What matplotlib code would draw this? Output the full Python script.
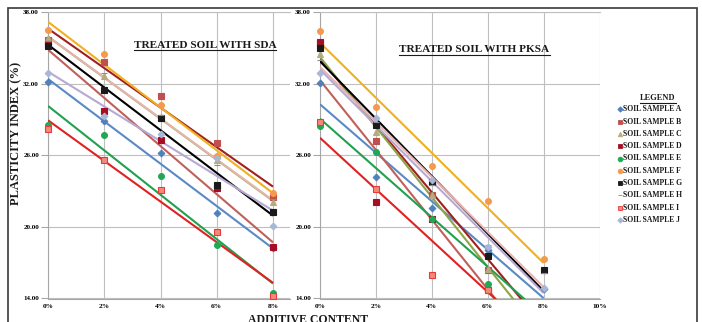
import numpy as np
import matplotlib
matplotlib.use('Agg')
import matplotlib.pyplot as plt
from matplotlib.lines import Line2D
from matplotlib.patches import Rectangle

# ---------------- data ----------------
additive_pct = [0, 2, 4, 6, 8]
sample_names = ['SOIL SAMPLE A', 'SOIL SAMPLE B', 'SOIL SAMPLE C', 'SOIL SAMPLE D',
                'SOIL SAMPLE E', 'SOIL SAMPLE F', 'SOIL SAMPLE G', 'SOIL SAMPLE H',
                'SOIL SAMPLE I', 'SOIL SAMPLE J']

# Treated soil with SDA (plasticity index, %)
sda_a = [32.1, 28.85, 26.15, 21.15, 18.2]
sda_b = [35.65, 33.8, 31.0, 27.0, 22.5]
sda_c = [35.8, 32.6, 29.2, 25.6, 22.1]
sda_d = [35.3, 29.7, 27.25, 23.25, 18.35]
sda_e = [28.5, 27.7, 24.25, 18.5, 14.5]
sda_f = [36.5, 34.5, 30.25, 25.9, 22.85]
sda_g = [35.15, 31.5, 29.1, 23.5, 21.25]
sda_h = [35.6, 32.9, 29.4, 25.2, 22.3]
sda_i = [28.2, 25.6, 23.05, 19.55, 14.2]
sda_j = [32.9, 29.3, 27.8, 25.8, 20.1]

# Treated soil with PKSA (plasticity index, %)
pksa_a = [32.05, 24.2, 21.6, 18.1, 14.8]
pksa_b = [35.4, 27.2, 22.65, 16.4, 12.85]
pksa_c = [34.5, 27.95, 22.65, 16.5, 10.9]
pksa_d = [35.5, 22.1, 20.7, 14.75, 10.0]
pksa_e = [28.45, 26.3, 20.7, 15.2, 13.35]
pksa_f = [36.45, 30.0, 25.1, 22.15, 17.3]
pksa_g = [35.0, 28.5, 23.75, 17.6, 16.4]
pksa_h = [34.0, 28.8, 23.5, 18.5, 16.1]
pksa_i = [28.8, 23.2, 16.0, 14.75, 11.5]
pksa_j = [32.9, 29.1, 23.9, 18.3, 14.9]

y_ticks = [14, 20, 26, 32, 38]

# ---------------- styles ----------------
markers = ['D', 's', '^', 's', 'o', 'o', 's', '_', 's', 'D']
msizes = [3.4, 3.8, 4.0, 3.8, 4.2, 4.2, 3.8, 4.0, 3.8, 3.4]
mface = ['#4F81BD', '#C0504D', '#B3AD7E', '#A50F25', '#1FA855',
         '#F59A4C', '#1A1A1A', '#8C8C8C', '#F28A7A', '#A8B6D8']
medge = ['#4F81BD', '#C0504D', '#B3AD7E', '#A50F25', '#1FA855',
         '#F59A4C', '#1A1A1A', '#8C8C8C', '#E83A3A', '#A8B6D8']
trend_colors = ['#5A8AC6', '#A31F1F', '#8EA44A', '#C0605A', '#22A050',
                '#F0B020', '#000000', '#E8B4B0', '#E02222', '#B7A9D3']

W, H = 702, 322
serif = ['Liberation Serif', 'DejaVu Serif']
plt.rcParams['font.family'] = serif

fig = plt.figure(figsize=(W / 100, H / 100), dpi=100)
fig.patch.set_facecolor('white')


def fx(px):
    return px / W


def fy(py):
    return 1 - py / H


def style_axes(ax, xmax, xticks, xlabels):
    ax.set_ylim(14, 38)
    ax.set_xlim(0, xmax)
    ax.set_yticks(y_ticks)
    ax.set_yticklabels(['%.2f' % v for v in y_ticks])
    ax.set_xticks(xticks)
    ax.set_xticklabels(xlabels)
    ax.grid(True, color='#BFBFBF', linewidth=0.8)
    ax.set_axisbelow(True)
    ax.spines['right'].set_visible(False)
    ax.spines['top'].set_color('#BFBFBF')
    ax.spines['top'].set_linewidth(0.8)
    for s in ['left', 'bottom']:
        ax.spines[s].set_color('#A6A6A6')
        ax.spines[s].set_linewidth(0.8)
    ax.tick_params(axis='y', length=5, width=0.8, color='#A6A6A6', pad=1.5,
                   labelsize=5.0)
    ax.tick_params(axis='x', length=0, pad=4, labelsize=5.3)
    for lab in ax.get_xticklabels() + ax.get_yticklabels():
        lab.set_fontweight('bold')
    ax.set_facecolor('white')


def draw_series(ax, series_list):
    x = np.array(additive_pct, dtype=float)
    xs = np.array([x.min(), x.max()])
    for k, vals in enumerate(series_list):
        y = np.array(vals, dtype=float)
        slope, icpt = np.polyfit(x, y, 1)
        ax.plot(xs, slope * xs + icpt, color=trend_colors[k], lw=1.5, zorder=3,
                solid_capstyle='butt')
    for k, vals in enumerate(series_list):
        y = np.array(vals, dtype=float)
        vis = y >= 14
        ax.plot(x[vis], y[vis], linestyle='none', marker=markers[k],
                markersize=msizes[k], markerfacecolor=mface[k],
                markeredgecolor=medge[k], markeredgewidth=0.8, zorder=4,
                clip_on=False)


sda_series = [sda_a, sda_b, sda_c, sda_d, sda_e, sda_f, sda_g, sda_h, sda_i, sda_j]
pksa_series = [pksa_a, pksa_b, pksa_c, pksa_d, pksa_e, pksa_f, pksa_g, pksa_h, pksa_i, pksa_j]

# Left panel (SDA)
axL = fig.add_axes([fx(48), fy(298.5), (290 - 48) / W, 286.5 / H])
style_axes(axL, (290 - 48) / 28.125, [0, 2, 4, 6, 8], ['0%', '2%', '4%', '6%', '8%'])
draw_series(axL, sda_series)

# Right panel (PKSA)
axR = fig.add_axes([fx(320), fy(298.5), 279.5 / W, 286.5 / H])
style_axes(axR, 10, [0, 2, 4, 6, 8, 10], ['0%', '2%', '4%', '6%', '8%', '10%'])
draw_series(axR, pksa_series)

# Titles
t1 = fig.text(fx(205), fy(45), 'TREATED SOIL WITH SDA', ha='center', va='center',
              fontsize=8.1, fontweight='bold', color='#1A1A1A')
t2 = fig.text(fx(474.5), fy(50), 'TREATED SOIL WITH PKSA', ha='center', va='center',
              fontsize=8.1, fontweight='bold', color='#1A1A1A')

# Axis labels
fig.text(fx(16), fy(133), 'PLASTICITY INDEX (%)', rotation=90, ha='center',
         va='center', fontsize=9, fontweight='bold', color='#1A1A1A')
fig.text(fx(308), fy(314), 'ADDITIVE CONTENT', ha='center', va='top',
         fontsize=8.5, fontweight='bold', color='#1A1A1A')

# Legend
t3 = fig.text(fx(658), fy(98), 'LEGEND', ha='center', va='center', fontsize=6,
              fontweight='bold', color='#1A1A1A')
for k, name in enumerate(sample_names):
    yy = 109.3 + k * 12.3
    fig.add_artist(Line2D([fx(620)], [fy(yy)], transform=fig.transFigure,
                          linestyle='none', marker=markers[k],
                          markersize=msizes[k] * 0.8, markerfacecolor=mface[k],
                          markeredgecolor=medge[k], markeredgewidth=0.6))
    fig.text(fx(623), fy(yy), name, ha='left', va='center', fontsize=5.5,
             fontweight='bold', color='#1A1A1A')

# Outer frame
fig.add_artist(Rectangle((fx(8), fy(340)), fx(697) - fx(8), fy(8) - fy(340),
                         transform=fig.transFigure, fill=False,
                         edgecolor='#3A3A3A', linewidth=1.2))

# underline titles
fig.canvas.draw()
r = fig.canvas.get_renderer()
for t in (t1, t2, t3):
    bb = t.get_window_extent(renderer=r)
    yline = (bb.y0 - 0.5) / fig.bbox.height
    fig.add_artist(Line2D([bb.x0 / fig.bbox.width, bb.x1 / fig.bbox.width],
                          [yline, yline], transform=fig.transFigure,
                          color='#1A1A1A', linewidth=0.8))

fig.savefig('out.png', dpi=100)
